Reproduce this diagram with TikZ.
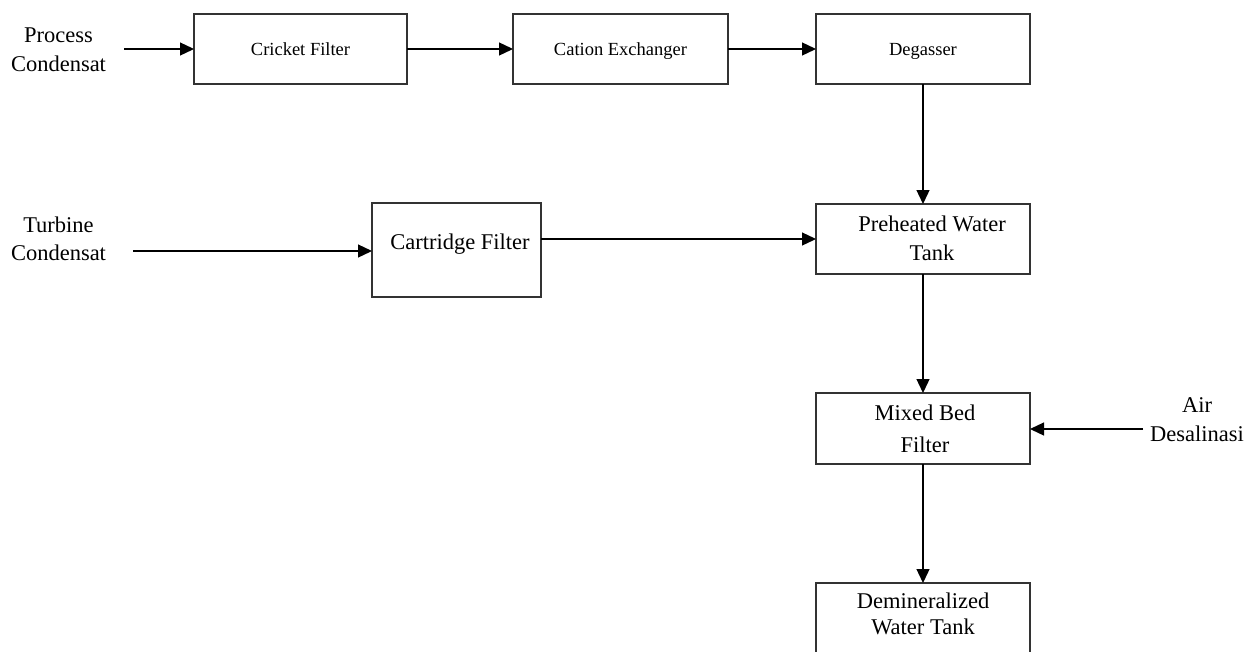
\documentclass[tikz,border=0pt]{standalone}
\usepackage{fontspec}
\setmainfont{Liberation Serif}
\usetikzlibrary{arrows.meta}
\begin{document}
\begin{tikzpicture}[x=1pt,y=-1pt,
  box/.style={draw=black!80, line width=1.3pt, inner sep=0pt, outer sep=0pt},
  flow/.style={line width=1.3pt, -{Triangle[length=14pt,width=13pt]}},
  big/.style={font=\fontsize{22.5}{29}\selectfont, align=center, inner sep=0pt},
  small/.style={font=\fontsize{18.5}{22}\selectfont, inner sep=0pt, text height=13pt, text depth=1pt}]
\useasboundingbox (0,0) rectangle (1256,651);

% boxes
\node[box, small, minimum width=213pt, minimum height=70pt] (cricket) at (300.5,49) {Cricket Filter};
\node[box, small, minimum width=215pt, minimum height=70pt] (cation) at (620.5,49) {Cation Exchanger};
\node[box, small, minimum width=214pt, minimum height=70pt] (deg) at (923,49) {Degasser};
\node[box, minimum width=169pt, minimum height=94pt] (cart) at (456.5,250) {};
\node[big] (cartt) at (460,244) {Cartridge Filter};
\node[box, minimum width=214pt, minimum height=70pt] (pre) at (923,239) {};
\node[big] (pret) at (932,238.5) {Preheated Water\\Tank};
\node[box, minimum width=214pt, minimum height=71pt] (mix) at (923,428.5) {};
\node[big, font=\fontsize{22.5}{32}\selectfont] (mixt) at (925,429) {Mixed Bed\\Filter};
\node[box, minimum width=214pt, minimum height=80pt, anchor=north] (dem) at (923,583) {};
\node[big, font=\fontsize{22.5}{26}\selectfont] (demt) at (923,614) {Demineralized\\Water Tank};

% inputs
\node[big] (proc) at (58.5,50) {Process\\Condensat};
\node[big, font=\fontsize{22.5}{28}\selectfont] (turb) at (58.5,239) {Turbine\\Condensat};
\node[big] (air) at (1197,420) {Air\\Desalinasi};

\coordinate (p0) at (124,49);
\coordinate (t0) at (133,251);
\coordinate (a0) at (1143,429);

% connectors
\draw[flow] (p0) -- (cricket.west |- p0);
\draw[flow] (cricket.east) -- (cation.west);
\draw[flow] (cation.east) -- (deg.west);
\draw[flow] (deg.south) -- (pre.north);
\draw[flow] (t0) -- (t0 -| cart.west);
\draw[flow] (cart.east |- pre.west) -- (pre.west);
\draw[flow] (pre.south) -- (mix.north);
\draw[flow] (a0) -- (a0 -| mix.east);
\draw[flow] (mix.south) -- (dem.north);
\end{tikzpicture}
\end{document}
